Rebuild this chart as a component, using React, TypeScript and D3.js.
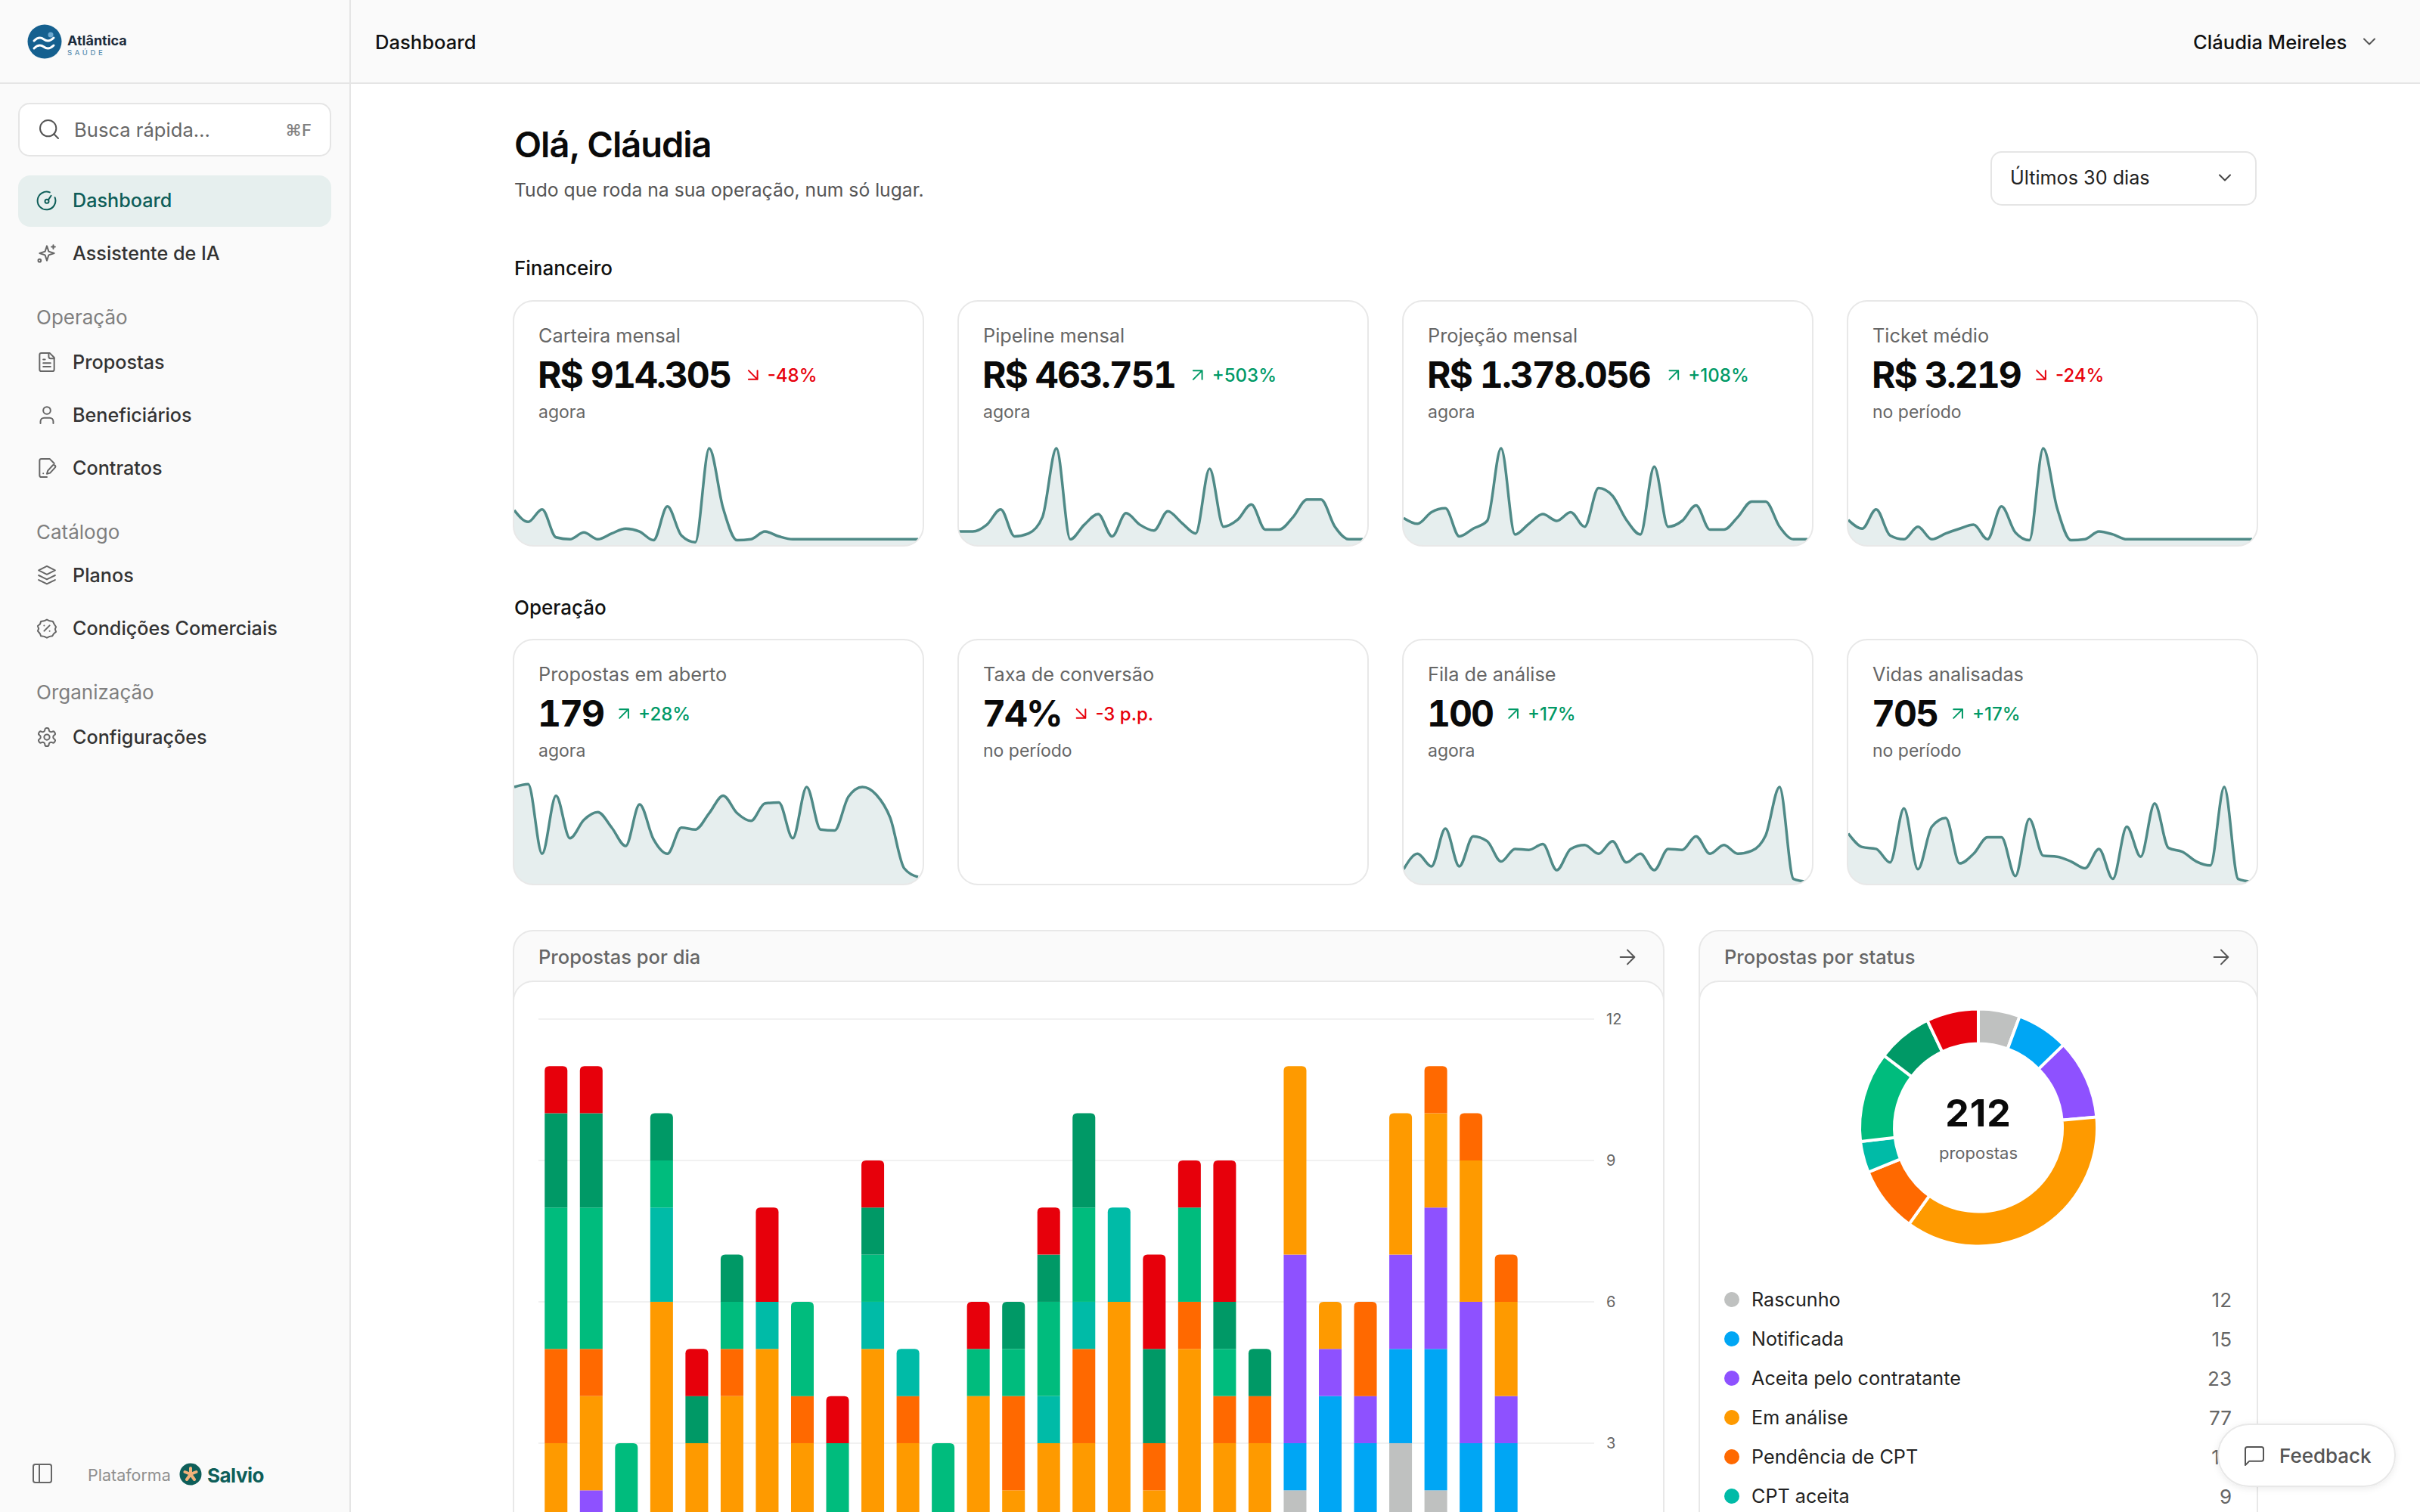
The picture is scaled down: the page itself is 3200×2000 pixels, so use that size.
import React from 'react';
import * as d3 from 'd3';

const FONT = 'Inter, sans-serif';

// KPI cards
const financeLabels = ['Carteira mensal', 'Pipeline mensal', 'Projeção mensal', 'Ticket médio'];
const financeValues = ['R$ 914.305', 'R$ 463.751', 'R$ 1.378.056', 'R$ 3.219'];
const financeDeltas = ['-48%', '+503%', '+108%', '-24%'];
const financeNotes = ['agora', 'agora', 'agora', 'no período'];

const operationLabels = ['Propostas em aberto', 'Taxa de conversão', 'Fila de análise', 'Vidas analisadas'];
const operationValues = ['179', '74%', '100', '705'];
const operationDeltas = ['+28%', '-3 p.p.', '+17%', '+17%'];
const operationNotes = ['agora', 'no período', 'agora', 'no período'];

// sparklines, 30 days, 100 = tallest point of the card
const sparkCarteira = [36, 24, 37, 8, 6, 13, 6, 12, 17, 14, 5, 40, 10, 3, 100, 38, 5, 6, 14, 9, 6, 6, 6, 6, 6, 6, 6, 6, 6, 6];
const sparkPipeline = [14, 14, 21, 37, 9, 12, 29, 100, 6, 21, 32, 9, 33, 21, 15, 35, 23, 12, 79, 19, 26, 42, 16, 16, 29, 47, 47, 19, 6, 6];
const sparkProjecao = [28, 22, 34, 38, 9, 17, 25, 100, 11, 22, 32, 25, 34, 19, 59, 51, 26, 11, 81, 19, 25, 41, 16, 16, 29, 45, 45, 19, 6, 6];
const sparkTicket = [26, 17, 37, 10, 6, 19, 6, 12, 17, 21, 6, 40, 13, 5, 100, 38, 5, 6, 14, 11, 6, 6, 6, 6, 6, 6, 6, 6, 6, 6];
const sparkAberto = [100, 103, 31, 91, 47, 66, 74, 58, 39, 82, 46, 31, 58, 56, 73, 91, 73, 65, 83, 84, 47, 100, 56, 55, 90, 100, 92, 68, 16, 7];
const sparkFila = [15, 31, 18, 57, 18, 49, 44, 23, 36, 35, 41, 14, 36, 40, 31, 44, 22, 31, 14, 36, 35, 49, 31, 40, 31, 34, 50, 100, 5, 2];
const sparkVidas = [52, 38, 36, 22, 78, 15, 59, 68, 21, 31, 48, 48, 8, 67, 29, 28, 23, 16, 36, 5, 59, 28, 83, 37, 33, 23, 19, 100, 5, 2];

// proposals per day, bottom of the stack first (last two days have no proposals)
const dayRascunho = [0, 1, 0, 0, 0, 0, 0, 0, 0, 0, 0, 0, 0, 0, 0, 0, 0, 0, 0, 0, 0, 2, 1, 1, 3, 2, 1, 1, 0, 0];
const dayNotificada = [0, 0, 0, 0, 0, 0, 0, 0, 0, 0, 0, 0, 0, 0, 0, 0, 0, 0, 0, 0, 0, 1, 3, 2, 2, 3, 2, 2, 0, 0];
const dayAceita = [1, 1, 1, 0, 1, 0, 0, 1, 1, 0, 0, 1, 0, 0, 0, 0, 0, 0, 0, 0, 0, 4, 1, 1, 2, 3, 3, 1, 0, 0];
const dayAnalise = [2, 2, 0, 6, 2, 4, 5, 2, 0, 5, 3, 0, 4, 2, 3, 3, 6, 2, 5, 3, 3, 4, 1, 0, 3, 2, 3, 2, 0, 0];
const dayPendencia = [2, 1, 0, 0, 0, 1, 0, 1, 0, 0, 1, 0, 0, 2, 0, 2, 0, 1, 1, 1, 1, 0, 0, 2, 0, 1, 1, 1, 0, 0];
const dayCptAceita = [0, 0, 0, 2, 0, 0, 1, 0, 0, 1, 1, 0, 0, 0, 1, 1, 2, 0, 0, 0, 0, 0, 0, 0, 0, 0, 0, 0, 0, 0];
const dayVerde = [3, 3, 2, 1, 0, 1, 0, 2, 2, 1, 0, 2, 1, 1, 2, 2, 0, 0, 2, 1, 0, 0, 0, 0, 0, 0, 0, 0, 0, 0];
const dayVerdeEscuro = [2, 2, 0, 1, 1, 1, 0, 0, 0, 1, 0, 0, 0, 1, 1, 2, 0, 2, 0, 1, 1, 0, 0, 0, 0, 0, 0, 0, 0, 0];
const dayVermelho = [1, 1, 0, 0, 1, 0, 2, 0, 1, 1, 0, 0, 1, 0, 1, 0, 0, 2, 1, 3, 0, 0, 0, 0, 0, 0, 0, 0, 0, 0];
const daySeries = [dayRascunho, dayNotificada, dayAceita, dayAnalise, dayPendencia, dayCptAceita, dayVerde, dayVerdeEscuro, dayVermelho];

// status totals: the last three legend rows fall below the fold
const statusLabels = ['Rascunho', 'Notificada', 'Aceita pelo contratante', 'Em análise', 'Pendência de CPT', 'CPT aceita'];
const statusCounts = [12, 15, 23, 77, 19, 9, 26, 16, 15];
const statusColors = ['#bfc1c0', '#00a6f4', '#8e51ff', '#fe9a00', '#ff6900', '#00bba7', '#00bc7d', '#009966', '#e7000b'];
const yTicks = [3, 6, 9, 12];

const UP = '#009966';
const DOWN = '#e7000b';
const CARD_X = [679, 1267, 1855, 2443];
const CARD_W = 542;

const canvas = document.createElement('canvas').getContext('2d')!;
// values use tabular figures, canvas has no tnum so measure every digit as a zero
const valueWidth = (text: string) => {
  canvas.font = '700 48px Inter';
  return canvas.measureText(text.replace(/\d/g, '0')).width - 2 * text.length;
};

const Icon: React.FC<{ x: number; y: number; size?: number; color?: string; width?: number; children: React.ReactNode }> = ({ x, y, size = 24, color = '#555', width = 2, children }) => (
  <g
    transform={`translate(${x - size / 2},${y - size / 2}) scale(${size / 24})`}
    fill="none"
    stroke={color}
    strokeWidth={(width * 24) / size}
    strokeLinecap="round"
    strokeLinejoin="round"
  >
    {children}
  </g>
);

const GEAR = 'M12.22 2h-.44a2 2 0 0 0-2 2v.18a2 2 0 0 1-1 1.73l-.43.25a2 2 0 0 1-2 0l-.15-.08a2 2 0 0 0-2.73.73l-.22.38a2 2 0 0 0 .73 2.73l.15.1a2 2 0 0 1 1 1.72v.51a2 2 0 0 1-1 1.74l-.15.09a2 2 0 0 0-.73 2.73l.22.38a2 2 0 0 0 2.73.73l.15-.08a2 2 0 0 1 2 0l.43.25a2 2 0 0 1 1 1.73V20a2 2 0 0 0 2 2h.44a2 2 0 0 0 2-2v-.18a2 2 0 0 1 1-1.73l.43-.25a2 2 0 0 1 2 0l.15.08a2 2 0 0 0 2.73-.73l.22-.39a2 2 0 0 0-.73-2.73l-.15-.08a2 2 0 0 1-1-1.74v-.5a2 2 0 0 1 1-1.74l.15-.09a2 2 0 0 0 .73-2.73l-.22-.38a2 2 0 0 0-2.73-.73l-.15.08a2 2 0 0 1-2 0l-.43-.25a2 2 0 0 1-1-1.73V4a2 2 0 0 0-2-2z';

const Label: React.FC<React.SVGProps<SVGTextElement>> = ({ children, ...rest }) => (
  <text fontFamily={FONT} dominantBaseline="central" {...rest}>{children}</text>
);

const Sidebar = () => {
  const item = (text: string, y: number, icon: React.ReactNode) => (
    <g key={text}>
      <Icon x={62} y={y} size={29} color="#666">{icon}</Icon>
      <Label x={96} y={y} fontSize={25.2} fontWeight={500} fill="#333">{text}</Label>
    </g>
  );
  const section = (text: string, y: number) => (
    <Label key={text} x={48} y={y} fontSize={26} fill="#7f7f7f">{text}</Label>
  );
  return (
    <g>
      <rect x={0} y={0} width={464} height={2000} fill="#fafafa" />
      <line x1={463} x2={463} y1={0} y2={2000} stroke="#e5e5e5" strokeWidth={2} />
      <line x1={0} x2={464} y1={110} y2={110} stroke="#e5e5e5" strokeWidth={2} />

      <circle cx={59} cy={55} r={22.5} fill="#15608f" />
      <circle cx={67} cy={46} r={3.5} fill="#6ea9d0" />
      <path d="M45 54c5-5 9-5 13-2s8 3 13-2M45 64c5-5 9-5 13-2s8 3 13-2" fill="none" stroke="#fff" strokeWidth={3} strokeLinecap="round" />
      <Label x={89} y={53} fontSize={18} fontWeight={700} fill="#1c2c3c">Atlântica</Label>
      <Label x={89} y={69} fontSize={9.5} fontWeight={500} letterSpacing={3.6} fill="#5b8eb0">SAÚDE</Label>

      <rect x={25} y={137} width={412} height={69} rx={14} fill="#fff" stroke="#e5e5e5" strokeWidth={2} />
      <Icon x={65} y={171} size={32} color="#555"><circle cx={11} cy={11} r={8} /><path d="m21 21-4.3-4.3" /></Icon>
      <Label x={98} y={171} fontSize={25.6} fill="#666">Busca rápida…</Label>
      <Label x={412} y={172} fontSize={22} fontWeight={500} fill="#808080" textAnchor="end">⌘F</Label>

      <rect x={24} y={232} width={414} height={68} rx={16} fill="#e6efee" />
      <Icon x={62} y={265} size={30} color="#0e5e59">
        <path d="M15 3.5A9.5 9.5 0 1 0 20.5 9" /><circle cx={12} cy={13} r={2} /><path d="m13.5 11.5 3-4.5" />
      </Icon>
      <Label x={96} y={265} fontSize={25.2} fontWeight={500} fill="#0e5e59">Dashboard</Label>
      {item('Assistente de IA', 335, <>
        <path d="M12 4l2 6 6 2-6 2-2 6-2-6-6-2 6-2z" /><path d="M19 3v4M17 5h4" /><circle cx={4} cy={20} r={1.5} />
      </>)}

      {section('Operação', 419)}
      {item('Propostas', 479, <>
        <path d="M15 2H6a2 2 0 0 0-2 2v16a2 2 0 0 0 2 2h12a2 2 0 0 0 2-2V7Z" /><path d="M14 2v4a2 2 0 0 0 2 2h4" /><path d="M16 13H8M16 17H8M10 9H8" />
      </>)}
      {item('Beneficiários', 549, <>
        <path d="M19 21v-2a4 4 0 0 0-4-4H9a4 4 0 0 0-4 4v2" /><circle cx={12} cy={7} r={4} />
      </>)}
      {item('Contratos', 619, <>
        <path d="M12 22H6a2 2 0 0 1-2-2V4a2 2 0 0 1 2-2h9l5 5" /><path d="M21 11.5a1.8 1.8 0 0 0-3-2l-5 5.5-1 3.5 3.5-1z" /><path d="M8 18h.01" />
      </>)}
      {section('Catálogo', 703)}
      {item('Planos', 761, <>
        <path d="m12 2 9 4.5-9 4.5-9-4.5z" /><path d="m3 12 9 4.5 9-4.5" /><path d="m3 17 9 4.5 9-4.5" />
      </>)}
      {item('Condições Comerciais', 831, <>
        <path d="M12 2.5l3 1.5 3.5.5 1.5 3 2 3-1 2.5 1 3-2.5 2-1.5 2.5-3 .5-3 1.5-3-1.5-3.5-.5-1-2.5-2.5-3 1-2.5-1-3 2.5-2 1-3 3.5-.5z" /><path d="m15 9-6 6M9 9h.01M15 15h.01" />
      </>)}
      {section('Organização', 915)}
      {item('Configurações', 975, <><path d={GEAR} /><circle cx={12} cy={12} r={3} /></>)}

      <Icon x={56} y={1949} size={32} color="#666"><rect x={3} y={3} width={18} height={18} rx={2} /><path d="M9 3v18" /></Icon>
      <Label x={116} y={1951} fontSize={21.5} fill="#8f8f8f">Plataforma</Label>
      <circle cx={252} cy={1950} r={14.5} fill="#0e5e59" />
      <g stroke="#f2b27a" strokeWidth={4} strokeLinecap="round">
        <path d="M252 1950v-8M252 1950l7.5-3M252 1950l5 7M252 1950l-5 7M252 1950l-7.5-3" />
      </g>
      <Label x={274} y={1951} fontSize={26} fontWeight={700} letterSpacing={-0.5} fill="#0e5e59">Salvio</Label>
    </g>
  );
};

const Header = () => (
  <g>
    <rect x={464} y={0} width={2736} height={110} fill="#fafafa" />
    <line x1={464} x2={3200} y1={110} y2={110} stroke="#e5e5e5" strokeWidth={2} />
    <Label x={496} y={55} fontSize={25.6} fontWeight={500} fill="#111">Dashboard</Label>
    <Label x={2900} y={55} fontSize={25.6} fontWeight={500} fill="#111">Cláudia Meireles</Label>
    <Icon x={3133} y={55} size={28} color="#555"><path d="m6 9 6 6 6-6" /></Icon>

    <Label x={680} y={190} fontSize={47} fontWeight={600} letterSpacing={-1} fill="#0a0a0a">Olá, Cláudia</Label>
    <Label x={680} y={251} fontSize={24.7} fill="#555">Tudo que roda na sua operação, num só lugar.</Label>
    <rect x={2633} y={201} width={350} height={70} rx={14} fill="#fff" stroke="#e5e5e5" strokeWidth={2} />
    <Label x={2658} y={235} fontSize={25.2} fill="#222">Últimos 30 dias</Label>
    <Icon x={2942} y={235} size={28} color="#444"><path d="m6 9 6 6 6-6" /></Icon>
    <Label x={680} y={354} fontSize={26} fontWeight={500} fill="#111">Financeiro</Label>
    <Label x={680} y={803} fontSize={26} fontWeight={500} fill="#111">Operação</Label>
  </g>
);

interface KpiProps {
  id: string;
  x: number;
  top: number;
  label: string;
  value: string;
  delta: string;
  note: string;
  spark?: number[];
}

const KpiCard: React.FC<KpiProps> = ({ id, x, top, label, value, delta, note, spark }) => {
  const height = 324;
  const sy = d3.scaleLinear().domain([0, 100]).range([top + height - 1, top + 195]);
  const sx = d3.scaleLinear().domain([0, 29]).range([x + 1, x + 535]);
  const line = d3.line<number>().x((_, i) => sx(i)).y(d => sy(d)).curve(d3.curveMonotoneX);
  const area = d3.area<number>().x((_, i) => sx(i)).y0(top + height).y1(d => sy(d)).curve(d3.curveMonotoneX);
  const up = delta.startsWith('+');
  const color = up ? UP : DOWN;
  const valueEnd = x + 33 + valueWidth(value);
  return (
    <g>
      <clipPath id={id}><rect x={x} y={top} width={CARD_W} height={height} rx={26} /></clipPath>
      <rect x={x} y={top} width={CARD_W} height={height} rx={26} fill="#fff" />
      {spark && (
        <g clipPath={`url(#${id})`}>
          <path d={area(spark) || ''} fill="#e6eeee" />
          <path d={line(spark) || ''} fill="none" stroke="#4f8a87" strokeWidth={3.5} />
        </g>
      )}
      <rect x={x} y={top} width={CARD_W} height={height} rx={26} fill="none" stroke="#e8e8e8" strokeWidth={2} />
      <Label x={x + 33} y={top + 45} fontSize={25.3} fill="#666">{label}</Label>
      <Label x={x + 32} y={top + 97} fontSize={48} fontWeight={700} letterSpacing={-2} fill="#0a0a0a" style={{ fontVariantNumeric: 'tabular-nums' }}>{value}</Label>
      <Icon x={valueEnd + 22} y={top + 98} size={28} color={color}>
        {up ? <path d="M7 7h10v10M7 17 17 7" /> : <path d="m7 7 10 10M17 7v10H7" />}
      </Icon>
      <Label x={valueEnd + 41} y={top + 98} fontSize={24} fontWeight={500} fill={color}>{delta}</Label>
      <Label x={x + 33} y={top + 147} fontSize={23} fill="#666">{note}</Label>
    </g>
  );
};

const Panel: React.FC<{ x: number; width: number; title: string }> = ({ x, width, title }) => (
  <g>
    <rect x={x} y={1231} width={width} height={900} rx={26} fill="#fafafa" stroke="#e8e8e8" strokeWidth={2} />
    <rect x={x} y={1298} width={width} height={900} rx={26} fill="#fff" stroke="#e8e8e8" strokeWidth={2} />
    <Label x={x + 33} y={1265} fontSize={25.5} fontWeight={500} fill="#666">{title}</Label>
    <Icon x={x + width - 48} y={1266} size={32} color="#555"><path d="M5 12h14M12 5l7 7-7 7" /></Icon>
  </g>
);

const days = d3.range(30).map(String);
const stackRows = days.map((_, d) => {
  const row: Record<string, number> = {};
  daySeries.forEach((s, k) => { row[k] = s[d]; });
  return row;
});
const stacked = d3.stack<Record<string, number>>().keys(daySeries.map((_, k) => String(k)))(stackRows);

const topRounded = (x: number, w: number, yTop: number, yBottom: number, r: number) =>
  `M${x},${yBottom}V${yTop + r}Q${x},${yTop} ${x + r},${yTop}H${x + w - r}Q${x + w},${yTop} ${x + w},${yTop + r}V${yBottom}Z`;

const DailyChart = () => {
  const bandPad = 0.355;
  const x = d3.scaleBand<string>().domain(days).range([712, 2108]).paddingInner(bandPad).paddingOuter(bandPad / 2);
  const y = d3.scaleLinear().domain([0, 12]).range([2096, 1347.9]);
  return (
    <g>
      {yTicks.map(t => (
        <g key={t}>
          <line x1={712} x2={2108} y1={y(t)} y2={y(t)} stroke="#f1f1f1" strokeWidth={2} />
          <Label x={2124} y={y(t)} fontSize={20} fill="#666">{t}</Label>
        </g>
      ))}
      {stacked.map((layer, k) => (
        <g key={k} fill={statusColors[k]}>
          {layer.map((seg, d) => {
            if (seg[1] <= seg[0]) return null;
            const bx = x(days[d])!;
            const isTop = stacked.slice(k + 1).every(l => l[d][1] <= l[d][0]);
            if (isTop) return <path key={d} d={topRounded(bx, x.bandwidth(), y(seg[1]), y(seg[0]), 6)} />;
            return <rect key={d} x={bx} width={x.bandwidth()} y={y(seg[1])} height={y(seg[0]) - y(seg[1])} />;
          })}
        </g>
      ))}
    </g>
  );
};

const StatusDonut = () => {
  const cx = 2616;
  const cy = 1491.5;
  const pie = d3.pie<number>().sort(null);
  const arc = d3.arc<d3.PieArcDatum<number>>().innerRadius(111).outerRadius(157);
  const total = d3.sum(statusCounts);
  return (
    <g>
      <g transform={`translate(${cx},${cy})`}>
        {pie(statusCounts).map((a, i) => (
          <path key={i} d={arc(a) || ''} fill={statusColors[i]} stroke="#fff" strokeWidth={4} />
        ))}
      </g>
      <Label x={cx} y={cy - 20} fontSize={50} fontWeight={700} letterSpacing={1} textAnchor="middle" fill="#0a0a0a">{total}</Label>
      <Label x={cx} y={cy + 33} fontSize={22} textAnchor="middle" fill="#666">propostas</Label>
      {statusLabels.map((label, i) => {
        const ry = 1719 + i * 52;
        return (
          <g key={label}>
            <circle cx={2290} cy={ry} r={10} fill={statusColors[i]} />
            <Label x={2316} y={ry} fontSize={25.2} fill="#222">{label}</Label>
            <Label x={2951} y={ry} fontSize={26} textAnchor="end" fill="#666">{statusCounts[i]}</Label>
          </g>
        );
      })}
    </g>
  );
};

export default function App() {
  const financeSparks = [sparkCarteira, sparkPipeline, sparkProjecao, sparkTicket];
  const operationSparks = [sparkAberto, undefined, sparkFila, sparkVidas];
  return (
    <svg width={3200} height={2000} viewBox="0 0 3200 2000" style={{ position: 'absolute', left: 0, top: 0, display: 'block', background: '#fff' }}>
      <defs>
        <filter id="pill" x="-20%" y="-40%" width="140%" height="180%">
          <feDropShadow dx={0} dy={2} stdDeviation={4} floodColor="#000" floodOpacity={0.08} />
        </filter>
      </defs>
      <Sidebar />
      <Header />
      {financeLabels.map((label, i) => (
        <KpiCard key={label} id={`fin${i}`} x={CARD_X[i]} top={398} label={label} value={financeValues[i]} delta={financeDeltas[i]} note={financeNotes[i]} spark={financeSparks[i]} />
      ))}
      {operationLabels.map((label, i) => (
        <KpiCard key={label} id={`op${i}`} x={CARD_X[i]} top={846} label={label} value={operationValues[i]} delta={operationDeltas[i]} note={operationNotes[i]} spark={operationSparks[i]} />
      ))}
      <Panel x={679} width={1521} title="Propostas por dia" />
      <Panel x={2247} width={738} title="Propostas por status" />
      <DailyChart />
      <StatusDonut />
      <rect x={2933} y={1884} width={234} height={82} rx={41} fill="#fff" stroke="#e8e8e8" strokeWidth={2} filter="url(#pill)" />
      <Icon x={2981} y={1926} size={32} color="#555"><path d="M21 15a2 2 0 0 1-2 2H7l-4 4V5a2 2 0 0 1 2-2h14a2 2 0 0 1 2 2z" /></Icon>
      <Label x={3014} y={1925} fontSize={26} fontWeight={500} fill="#555">Feedback</Label>
    </svg>
  );
}
